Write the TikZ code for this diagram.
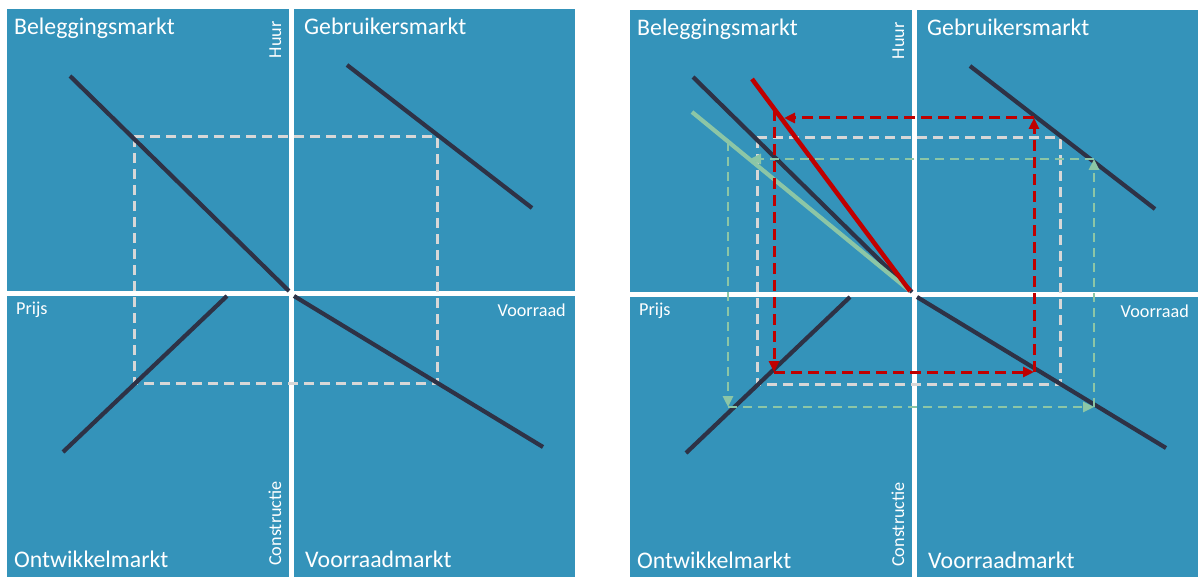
\documentclass[tikz,border=0pt]{standalone}
\usepackage{fontspec}
\setmainfont{Carlito}
\usetikzlibrary{arrows.meta}

\definecolor{panelblue}{RGB}{52,147,186}
\definecolor{curvedark}{RGB}{46,50,70}
\definecolor{guidegray}{RGB}{215,215,215}
\definecolor{shiftred}{RGB}{192,0,0}
\definecolor{shiftgreen}{RGB}{140,198,166}

% One four-quadrant market diagram (panels, labels, curves, equilibrium rectangle)
\newcommand{\marketquad}{%
  \fill[panel] (7,9) rectangle (289,291);
  \fill[panel] (294,9) rectangle (575,291);
  \fill[panel] (7,296) rectangle (289,578);
  \fill[panel] (294,296) rectangle (575,578);
  \node[title] (bel) at (14,35) {Beleggingsmarkt};
  \node[title] (geb) at (304,35) {Gebruikersmarkt};
  \node[title] (ont) at (14,567) {Ontwikkelmarkt};
  \node[title] (voo) at (305,567) {Voorraadmarkt};
  \node[axislabel, rotate=90, anchor=base east] (huur) at (281,21) {Huur};
  \node[axislabel, rotate=90, anchor=base west] (con) at (281,566) {Constructie};
  \node[axislabel, anchor=base west] (prijs) at (16,314) {Prijs};
  \node[axislabel, anchor=base east] (vrd) at (566,316) {Voorraad};
  \draw[guide] (134,137) rectangle (437,383);
  \draw[curve] (70,76) -- (289,291);
  \draw[curve] (347,65) -- (532,208);
  \draw[curve] (63,452) -- (227,296);
  \draw[curve] (294,296) -- (543,447);
}

\begin{document}
\begin{tikzpicture}[x=1pt,y=-1pt,
  panel/.style={fill=panelblue},
  title/.style={text=white, inner sep=0pt, anchor=base west,
    font=\fontsize{23.8}{26}\selectfont},
  axislabel/.style={text=white, inner sep=0pt,
    font=\fontsize{18.2}{20}\selectfont},
  curve/.style={draw=curvedark, line width=4.2pt},
  guide/.style={draw=guidegray, line width=3pt, dash pattern=on 10pt off 6pt},
  redshift/.style={draw=shiftred, line width=3pt, dash pattern=on 11pt off 6pt,
    -{Triangle[length=11pt,width=10pt]}},
  greenshift/.style={draw=shiftgreen, line width=2.6pt, dash pattern=on 9pt off 6pt,
    -{Triangle[length=11pt,width=10pt]}},
]
\useasboundingbox[fill=white] (0,0) rectangle (1198,577);

% left: equilibrium
\marketquad

% right: same diagram with shifted demand in the investment market
\begin{scope}[shift={(623,1)}]
  \marketquad
\end{scope}

% shifted investment-market curves
\draw[draw=shiftgreen, line width=4.2pt] (692,112) -- (910,291);
\draw[draw=shiftred, line width=4.5pt] (752,79) -- (910,291);

% green adjustment cycle
\coordinate (g1) at (728,142);
\coordinate (g2) at (728,407);
\coordinate (g3) at (1094,407);
\coordinate (g4) at (1094,159);
\coordinate (g5) at (750,159);
\draw[greenshift] (g1) -- (g2);
\draw[greenshift] (g2) -- (g3);
\draw[greenshift] (g3) -- (g4);
\draw[greenshift] (g4) -- (g5);

% red adjustment cycle
\coordinate (r1) at (774,110);
\coordinate (r2) at (774,372);
\coordinate (r3) at (1034,372);
\coordinate (r4) at (1034,118);
\coordinate (r5) at (784,118);
\draw[redshift] (r1) -- (r2);
\draw[redshift] (r2) -- (r3);
\draw[redshift] (r3) -- (r4);
\draw[redshift] (r4) -- (r5);
\end{tikzpicture}
\end{document}
